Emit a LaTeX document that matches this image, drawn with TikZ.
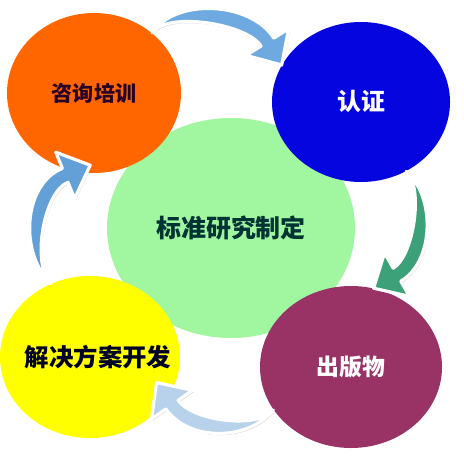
\documentclass[tikz,border=0pt]{standalone}
\usepackage{fontspec}
\newfontfamily\cjk{Noto Sans CJK SC}
\usetikzlibrary{shapes.geometric,calc,shadows}
\definecolor{consultcolor}{HTML}{FF6600}
\definecolor{certcolor}{HTML}{0505E0}
\definecolor{stdcolor}{HTML}{A0F7A0}
\definecolor{solcolor}{HTML}{FFFF00}
\definecolor{pubcolor}{HTML}{993366}
\definecolor{arrowblue}{HTML}{6EAAE0}
\definecolor{arrowgreen}{HTML}{3CA078}
\definecolor{arrowpale}{HTML}{B8D2EC}
\definecolor{arrowsteel}{HTML}{64A0D8}
\tikzset{
  disc/.style={ellipse, inner sep=0pt},
  cycle arrow/.style={draw=white, line width=1.8pt, line join=round,
    drop shadow={shadow xshift=.7pt, shadow yshift=-1pt, opacity=.35}},
}
\newcommand{\cyclearrow}[7]{%
  \pgfmathsetmacro{\headback}{#4+180}
  \coordinate (tip) at #2;
  \coordinate (hb) at ($(tip)+(\headback:.54)$);
  \path[cycle arrow, fill=#5]
    #1 to[out=#3, in=\headback, looseness=#6] ($(hb)+(#4+90:.15)$)
    -- ($(hb)+(#4+90:.5)$) -- (tip) -- ($(hb)+(#4-90:.5)$)
    -- ($(hb)+(#4-90:.15)$) to[out=\headback, in=#3, looseness=#7] #1 -- cycle;
}

\begin{document}
\begin{tikzpicture}

% Background
\fill[white] (0,0) rectangle (9.28,9.12);
\useasboundingbox (0,0) rectangle (9.28,9.12);

%%%%%%%%%%%%%%
% Circles
%%%%%%%%%%%%%%
  \node[disc, fill=stdcolor, minimum width=4.96cm, minimum height=4.40cm,
        label={[text=black!60!teal, font=\cjk\bfseries\fontsize{14.2}{16}\selectfont]center:标准研究制定}]
        (std) at (4.62, 4.56) {};
  \node[disc, fill=consultcolor, minimum width=3.48cm, minimum height=3.20cm,
        label={[text=black!70!violet, font=\cjk\bfseries\fontsize{12}{14}\selectfont]center:咨询培训}]
        (consult) at (1.88, 7.26) {};
  \node[disc, fill=certcolor, minimum width=3.56cm, minimum height=3.20cm,
        label={[text=white, font=\cjk\bfseries\fontsize{13.6}{16}\selectfont]center:认证}]
        (cert) at (7.22, 7.08) {};
  \node[disc, fill=solcolor, minimum width=3.60cm, minimum height=3.24cm,
        label={[text=black!85!blue, font=\cjk\bfseries\fontsize{13.9}{16}\selectfont, xshift=.16cm]center:解决方案开发}]
        (sol) at (1.80, 1.98) {};
  \node[disc, fill=pubcolor, minimum width=3.64cm, minimum height=3.24cm,
        label={[text=white, font=\cjk\bfseries\fontsize{13}{15}\selectfont]center:出版物}]
        (pub) at (7.02, 1.78) {};

%%%%%%%%%%%%%%
% Arrows
%%%%%%%%%%%%%%
  % consult -> cert
  \cyclearrow{(consult.46)}{(cert.155)}{56}{-58}{arrowblue}{.9}{.62}
  % cert -> pub
  \cyclearrow{(cert.-57)}{(pub.74)}{-40}{210}{arrowgreen}{.9}{.62}
  % pub -> sol
  \cyclearrow{(pub.209)}{($(sol.center)!.8!(sol.-21)$)}{231}{125}{arrowpale}{.95}{.67}
  % sol -> consult
  \cyclearrow{(sol.118)}{($(consult.center)!.9!(consult.267)$)}{137}{22}{arrowsteel}{.95}{.67}

\end{tikzpicture}
\end{document}
